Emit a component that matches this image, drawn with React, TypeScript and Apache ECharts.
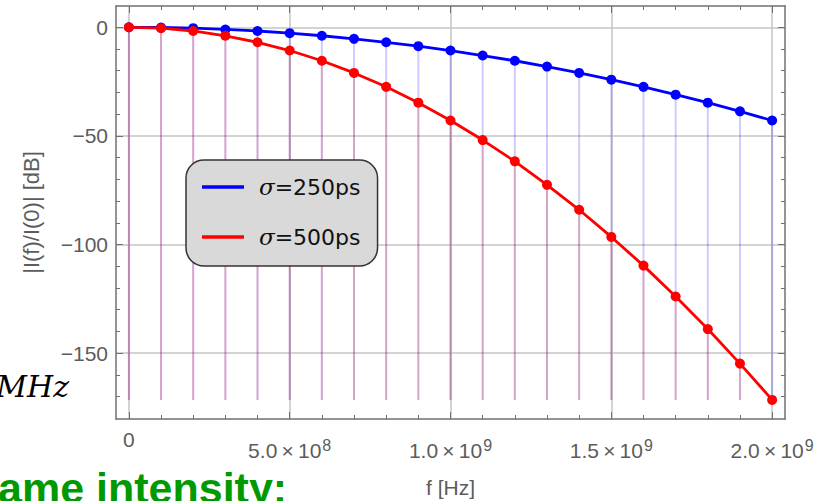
import React, { useEffect, useRef } from 'react';
import * as echarts from 'echarts';

// ---- data ----
const FREQ_HZ = [
  0, 1e8, 2e8, 3e8, 4e8, 5e8, 6e8, 7e8, 8e8, 9e8, 1e9,
  1.1e9, 1.2e9, 1.3e9, 1.4e9, 1.5e9, 1.6e9, 1.7e9, 1.8e9, 1.9e9, 2e9,
];
const DB_250PS = [
  0, -0.1, -0.4, -1.0, -1.7, -2.7, -3.9, -5.3, -6.9, -8.7, -10.7,
  -13.0, -15.4, -18.1, -21.0, -24.1, -27.4, -31.0, -34.7, -38.7, -42.9,
];
const DB_500PS = [
  0, -0.4, -1.7, -3.9, -6.9, -10.7, -15.4, -21.0, -27.4, -34.7, -42.9,
  -51.9, -61.7, -72.5, -84.0, -96.5, -109.7, -123.9, -138.9, -154.8, -171.5,
];
const SERIES_NAMES = ['σ=250ps', 'σ=500ps'];

const X_MAJOR_TICKS = [0, 5e8, 1e9, 1.5e9, 2e9];
const X_TICK_LABELS = ['0', '5.0\u2009×\u200910^8', '1.0\u2009×\u200910^9', '1.5\u2009×\u200910^9', '2.0\u2009×\u200910^9'];
const X_MINOR_TICKS = [
  0, 1e8, 2e8, 3e8, 4e8, 5e8, 6e8, 7e8, 8e8, 9e8, 1e9,
  1.1e9, 1.2e9, 1.3e9, 1.4e9, 1.5e9, 1.6e9, 1.7e9, 1.8e9, 1.9e9, 2e9,
];
const Y_MAJOR_TICKS = [0, -50, -100, -150];
const Y_TICK_LABELS = ['0', '−50', '−100', '−150'];
const Y_MINOR_TICKS = [0, -10, -20, -30, -40, -50, -60, -70, -80, -90, -100, -110, -120, -130, -140, -150, -160, -170];

const X_MIN = -4e7;
const X_MAX = 2.04e9;
const Y_MIN = -180.3;
const Y_MAX = 9.8;

const FILL_BASE = Math.min(...DB_250PS, ...DB_500PS);

const FONT = 'Liberation Sans';
const TICK_COLOR = '#5c5c5c';
const FRAME_COLOR = '#707070';

function xLabel(v: number) {
  const i = X_MAJOR_TICKS.findIndex((t) => Math.abs(t - v) < 1);
  const s = i >= 0 ? X_TICK_LABELS[i] : '';
  if (!s.includes('^')) return `{z|${s}}`;
  const [b, e] = s.split('^');
  return `{b|${b}}{s|${e}}`;
}
function yLabel(v: number) {
  const i = Y_MAJOR_TICKS.findIndex((t) => Math.abs(t - v) < 1e-6);
  return i >= 0 ? Y_TICK_LABELS[i] : '';
}

function stemSeries(name: string, values: number[], color: string) {
  return {
    type: 'custom',
    name,
    silent: true,
    xAxisIndex: 0,
    yAxisIndex: 0,
    data: FREQ_HZ.map((f, i) => [f, values[i]]),
    renderItem: (_p: any, api: any) => {
      const x = api.value(0);
      const y = api.value(1);
      const p1 = api.coord([x, y]);
      const p2 = api.coord([x, FILL_BASE]);
      return {
        type: 'line',
        shape: { x1: p1[0], y1: p1[1], x2: p2[0], y2: p2[1] },
        style: { stroke: color, lineWidth: 2 },
      };
    },
  };
}

function lineSeries(name: string, values: number[], color: string) {
  return {
    type: 'line',
    name,
    xAxisIndex: 0,
    yAxisIndex: 0,
    data: FREQ_HZ.map((f, i) => [f, values[i]]),
    symbol: 'circle',
    symbolSize: 10,
    showSymbol: true,
    color,
    itemStyle: { color },
    lineStyle: { color, width: 2.8 },
    silent: true,
  };
}

export default function App() {
  const ref = useRef<HTMLDivElement>(null);
  useEffect(() => {
    if (!ref.current) return;
    const chart = echarts.init(ref.current, undefined, { renderer: 'svg' });
    const frameLine = { show: true, onZero: false, lineStyle: { color: FRAME_COLOR, width: 1.5 } };
    const tickStyle = { color: FRAME_COLOR, width: 1 };
    const xBase = { type: 'value', min: X_MIN, max: X_MAX, gridIndex: 0 };
    const yBase = { type: 'value', min: Y_MIN, max: Y_MAX, gridIndex: 0 };
    chart.setOption({
      animation: false,
      backgroundColor: '#ffffff',
      grid: { left: 116, top: 6, width: 669, height: 413, outerBoundsMode: 'none', containLabel: false },
      xAxis: [
        {
          ...xBase,
          position: 'bottom',
          axisLine: frameLine,
          axisTick: { show: true, inside: true, length: 7, customValues: X_MAJOR_TICKS, lineStyle: tickStyle },
          axisLabel: {
            show: true,
            customValues: X_MAJOR_TICKS,
            margin: 21,
            formatter: xLabel,
            rich: {
              z: { fontFamily: FONT, fontSize: 21, color: TICK_COLOR, lineHeight: 21, padding: [0, 0, 22, 0] },
              b: { fontFamily: FONT, fontSize: 21, color: TICK_COLOR, lineHeight: 21, padding: [11, 0, 11, 0] },
              s: { fontFamily: FONT, fontSize: 16, color: TICK_COLOR, lineHeight: 16, padding: [8, 0, 19, 1] },
            },
          },
          splitLine: { show: true, lineStyle: { color: '#c4c4c4', width: 1.5 } },
          name: 'f [Hz]',
          nameLocation: 'middle',
          nameGap: 56,
          nameTextStyle: { fontFamily: FONT, fontSize: 21, color: TICK_COLOR },
        },
        {
          ...xBase,
          position: 'bottom',
          axisLine: { show: false, onZero: false },
          axisTick: { show: true, inside: true, length: 4, customValues: X_MINOR_TICKS, lineStyle: tickStyle },
          axisLabel: { show: false },
          splitLine: { show: false },
        },
        {
          ...xBase,
          position: 'top',
          axisLine: frameLine,
          axisTick: { show: true, inside: true, length: 7, customValues: X_MAJOR_TICKS, lineStyle: tickStyle },
          axisLabel: { show: false },
          splitLine: { show: false },
        },
        {
          ...xBase,
          position: 'top',
          axisLine: { show: false, onZero: false },
          axisTick: { show: true, inside: true, length: 4, customValues: X_MINOR_TICKS, lineStyle: tickStyle },
          axisLabel: { show: false },
          splitLine: { show: false },
        },
      ],
      yAxis: [
        {
          ...yBase,
          position: 'left',
          axisLine: frameLine,
          axisTick: { show: true, inside: true, length: 7, customValues: Y_MAJOR_TICKS, lineStyle: tickStyle },
          axisLabel: {
            show: true,
            customValues: Y_MAJOR_TICKS,
            margin: 8,
            formatter: yLabel,
            fontFamily: FONT,
            fontSize: 21,
            color: TICK_COLOR,
          },
          splitLine: { show: true, lineStyle: { color: '#c4c4c4', width: 1.5 } },
          name: '|I(f)/I(0)| [dB]',
          nameLocation: 'middle',
          nameGap: 74,
          nameRotate: 90,
          nameTextStyle: { fontFamily: FONT, fontSize: 22, color: TICK_COLOR },
        },
        {
          ...yBase,
          position: 'left',
          axisLine: { show: false, onZero: false },
          axisTick: { show: true, inside: true, length: 4, customValues: Y_MINOR_TICKS, lineStyle: tickStyle },
          axisLabel: { show: false },
          splitLine: { show: false },
        },
        {
          ...yBase,
          position: 'right',
          axisLine: frameLine,
          axisTick: { show: true, inside: true, length: 7, customValues: Y_MAJOR_TICKS, lineStyle: tickStyle },
          axisLabel: { show: false },
          splitLine: { show: false },
        },
        {
          ...yBase,
          position: 'right',
          axisLine: { show: false, onZero: false },
          axisTick: { show: true, inside: true, length: 4, customValues: Y_MINOR_TICKS, lineStyle: tickStyle },
          axisLabel: { show: false },
          splitLine: { show: false },
        },
      ],
      legend: {
        data: SERIES_NAMES,
        orient: 'vertical',
        left: 186,
        top: 160,
        backgroundColor: '#d9d9d9',
        borderColor: '#333333',
        borderWidth: 1.5,
        borderRadius: 18,
        padding: [15, 17, 17, 16],
        itemWidth: 42,
        itemHeight: 3.5,
        itemGap: 26,
        icon: 'rect',
        selectedMode: false,
        formatter: (n: string) => `{i|σ}{t|${n.slice(1)}}`,
        textStyle: {
          fontFamily: 'DejaVu Sans',
          fontSize: 22,
          color: '#111111',
          lineHeight: 24,
          padding: [0, 0, 0, 10],
          rich: {
            i: { fontFamily: 'DejaVu Serif', fontStyle: 'italic', fontSize: 23, color: '#111111', lineHeight: 24 },
            t: { fontFamily: 'DejaVu Sans', fontSize: 22, color: '#111111', lineHeight: 24 },
          },
        },
      },
      graphic: [
        {
          type: 'text',
          x: 69,
          y: 386.5,
          silent: true,
          style: {
            text: 'MHz',
            fontFamily: 'DejaVu Serif',
            fontStyle: 'italic',
            fontSize: 30,
            fill: '#000000',
            align: 'right',
            textAlign: 'right',
            verticalAlign: 'middle',
            textVerticalAlign: 'middle',
          },
        },
        {
          type: 'text',
          x: -2,
          y: 488,
          silent: true,
          style: {
            text: 'ame intensity:',
            fontFamily: FONT,
            fontWeight: 'bold',
            fontSize: 43,
            fill: '#009900',
            align: 'left',
            textAlign: 'left',
            verticalAlign: 'middle',
            textVerticalAlign: 'middle',
          },
        },
      ],
      series: [
        stemSeries('stem250', DB_250PS, 'rgba(0,0,255,0.2)'),
        stemSeries('stem500', DB_500PS, 'rgba(255,0,0,0.2)'),
        lineSeries(SERIES_NAMES[0], DB_250PS, '#0000ff'),
        lineSeries(SERIES_NAMES[1], DB_500PS, '#ff0000'),
      ],
    });
    return () => chart.dispose();
  }, []);
  return (
    <div
      ref={ref}
      style={{ position: 'fixed', left: 0, top: 0, width: 823, height: 501, background: '#fff' }}
    />
  );
}
